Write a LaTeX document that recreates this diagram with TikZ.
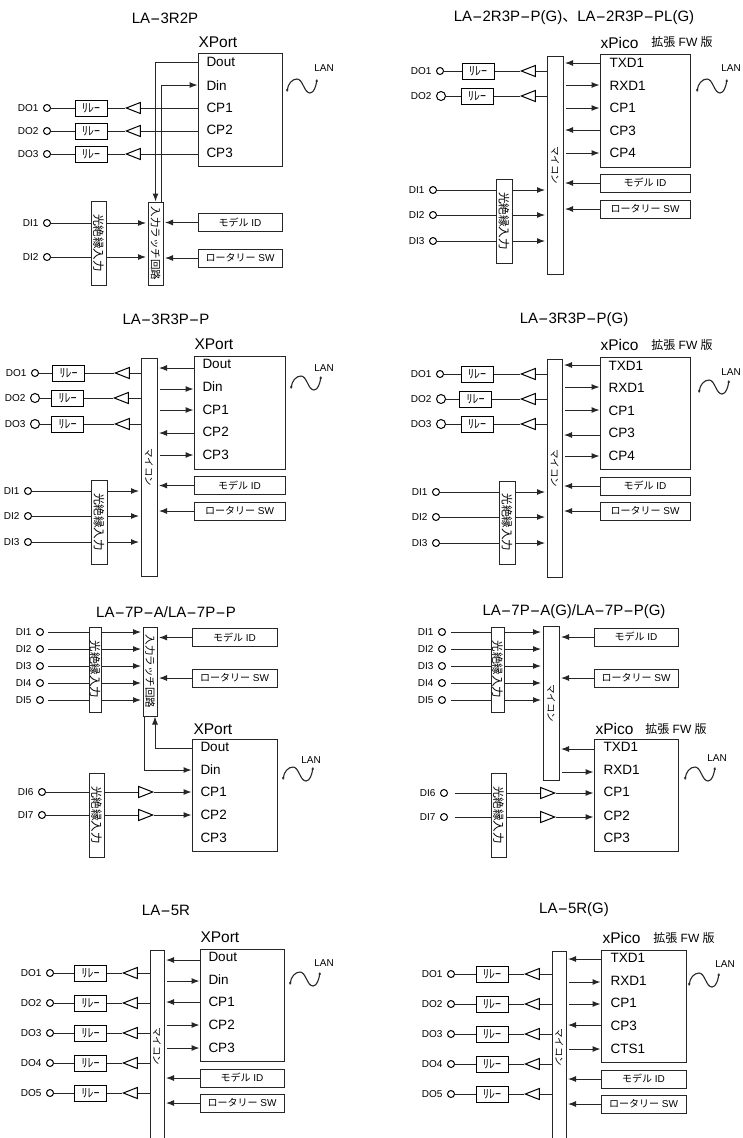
\documentclass[tikz,border=0pt]{standalone}
\usepackage{fontspec}
\setmainfont{Liberation Sans}
\newfontfamily\jpfont{Noto Sans CJK JP}
\usetikzlibrary{positioning,shapes.geometric,arrows.meta}
\newcommand{\lhy}{\scalebox{2.1}[1]{-}}
\newcommand{\fwtext}{{\jpfont 拡張} FW {\jpfont 版}}
\newcommand{\relayrow}[8][term]{%
  \node[#1] (#2) at (#5,#4) {};
  \node[termlabel,left=4pt of #2] (#2t) {#3};
  \node[relaybox] (#2r) at (#6,#4) {ﾘﾚｰ};
  \node[bufleft] (#2b) at (#7,#4) {};
  \draw[wire] (#2) -- (#2r);
  \draw[wire] (#2r) -- (#2b.apex);
  \draw[wire] (#2b.lower side) -- (#8 |- #2b.lower side);
}
\newcommand{\inputrow}[7][wire]{%
  \node[term] (#2) at (#5,#4) {};
  \node[termlabel,left=4pt of #2] (#2t) {#3};
  \draw[#1] (#2) -- (#6.west |- #2);
  \draw[sigin] (#6.east |- #2) -- (#7 |- #2);
}
\newcommand{\bufrow}[8][wire]{%
  \node[term] (#2) at (#5,#4) {};
  \node[termlabel,left=4pt of #2] (#2t) {#3};
  \node[bufright] (#2b) at (#7,#4) {};
  \draw[#1] (#2) -- (#6.west |- #2);
  \draw[wire] (#6.east |- #2) -- (#2b.lower side);
  \draw[sig] (#2b.apex) -- (#8 |- #2b.apex);
}
\newcommand{\idboxes}[5]{%
  \node[idbox,minimum width=#2pt] (model) at (#1,#3) {{\jpfont モデル} ID};
  \node[idbox,minimum width=#2pt] (rotary) at (#1,#4) {{\jpfont ロータリー} SW};
  \draw[sigin] (model.west) -- (#5 |- model.west);
  \draw[sigin] (rotary.west) -- (#5 |- rotary.west);
}
\newcommand{\lanwave}[4]{%
  \draw[wave,shift={(#1,#2)}] (0,0) .. controls (1,-8) and (5,-13) .. (10,-13)
    .. controls (16,-13) and (17,1) .. (23,1) .. controls (27,1) and (29,-6) .. (30,-13);
  \node[lanlabel] (lan) at (#3,#4) {LAN};
}
\begin{document}
\begin{tikzpicture}[x=1pt,y=-1pt,
    line width=1pt,
    term/.style={circle,draw,fill=white,inner sep=0pt,minimum size=7pt},
    bigterm/.style={term,minimum size=9pt},
    termlabel/.style={inner sep=0pt,font=\fontsize{10}{12}\selectfont},
    relaybox/.style={draw,fill=white,inner sep=0pt,minimum width=32pt,minimum height=16pt,font=\jpfont\fontsize{12}{12}\selectfont},
    bufleft/.style={draw,isosceles triangle,isosceles triangle stretches,shape border rotate=180,anchor=apex,inner sep=0pt,minimum width=11pt,minimum height=14pt},
    bufright/.style={bufleft,shape border rotate=0},
    wire/.style={draw=black!85},
    gapwire/.style={wire,shorten <=#1},
    sig/.style={wire,-{Latex[length=8pt,width=6pt]}},
    sigin/.style={sig,shorten >=1.5pt},
    sigout/.style={sig,shorten <=2.5pt},
    wave/.style={draw=black!85,line width=1.1pt,{Latex[length=2.5pt,width=3pt]}-{Latex[length=2.5pt,width=3pt]}},
    idbox/.style={draw=black!85,fill=white,inner sep=0pt,minimum height=18pt,font=\fontsize{10}{12}\selectfont},
    mainbox/.style={draw=black!85,fill=white,inner sep=0pt},
    tallbox/.style 2 args={mainbox,minimum width=#1pt,minimum height=#2pt,font=\jpfont\fontsize{11.5}{12}\selectfont},
    pin/.style={anchor=west,inner sep=0pt,font=\fontsize{13.5}{15}\selectfont},
    title/.style={inner sep=0pt,font=\fontsize{15}{16}\selectfont},
    modname/.style={anchor=west,inner sep=0pt,font=\fontsize{15.5}{17}\selectfont},
    fwnote/.style={inner sep=0pt,font=\fontsize{12}{14}\selectfont},
    lanlabel/.style={inner sep=0pt,font=\fontsize{10}{12}\selectfont}]
  \useasboundingbox (0,0) rectangle (743,1138);

  % LA-3R2P
  \begin{scope}
    \node[title] (ttl) at (165,18) {LA\lhy3R2P};
    \node[modname] (xp) at (198,42) {XPort};
    \node[mainbox,minimum width=84pt,minimum height=113pt] (xport) at (240,109.5) {};
    \node[pin] (p1) at (206,62) {Dout};
    \node[pin] (p2) at (206,86) {Din};
    \node[pin] (p3) at (206,108) {CP1};
    \node[pin] (p4) at (206,130) {CP2};
    \node[pin] (p5) at (206,153) {CP3};
    \node[tallbox={15}{83}] (latch) at (155.5,243.5) {\rotatebox{-90}{\fontsize{10.5}{11}\selectfont 入力ラッチ回路}};
    \node[tallbox={15}{84}] (photo) at (98.5,243) {\rotatebox{-90}{光絶縁入力}};
    \draw[sig] (xport.west |- 0,62) -| (latch.north);
    \draw[sig] ([xshift=6pt]latch.north) |- (xport.west |- 0,85);
    \relayrow{do1}{DO1}{108}{47}{91}{125}{xport.west}
    \relayrow{do2}{DO2}{131}{47}{91}{125}{xport.west}
    \relayrow{do3}{DO3}{154}{47}{91}{125}{xport.west}
    \inputrow{di1}{DI1}{223}{47}{photo}{latch.west}
    \inputrow{di2}{DI2}{257}{47}{photo}{latch.west}
    \idboxes{240}{84}{222.5}{258}{latch.east}
    \lanwave{287}{92}{324}{68}
  \end{scope}

  % LA-2R3P-P(G)
  \begin{scope}
    \node[title] (ttl) at (574,18) {LA\lhy2R3P\lhy P(G){\jpfont 、}LA\lhy2R3P\lhy PL(G)};
    \node[modname] (xp) at (600,43) {xPico};
    \node[fwnote] (fw) at (682,42) {\fwtext};
    \node[mainbox,minimum width=90pt,minimum height=113pt] (xpico) at (645,110.5) {};
    \node[pin] (p1) at (609,63) {TXD1};
    \node[pin] (p2) at (609,86) {RXD1};
    \node[pin] (p3) at (609,108) {CP1};
    \node[pin] (p4) at (609,131) {CP3};
    \node[pin] (p5) at (609,153) {CP4};
    \node[tallbox={16}{218}] (mcu) at (555,165) {\rotatebox{-90}{\fontsize{9.5}{10}\selectfont マイコン}};
    \node[tallbox={16}{84}] (photo) at (504,221) {\rotatebox{-90}{光絶縁入力}};
    \draw[sigin] (xpico.west |- 0,63) -- (mcu.east |- 0,63);
    \draw[sigout] (mcu.east |- 0,85) -- (xpico.west |- 0,85);
    \draw[sigout] (mcu.east |- 0,108) -- (xpico.west |- 0,108);
    \draw[sigin] (xpico.west |- 0,130) -- (mcu.east |- 0,130);
    \draw[sigout] (mcu.east |- 0,153) -- (xpico.west |- 0,153);
    \relayrow{do1}{DO1}{71}{440}{478}{520}{mcu.west}
    \relayrow[bigterm]{do2}{DO2}{96}{441}{477}{520}{mcu.west}
    \inputrow{di1}{DI1}{190}{433}{photo}{mcu.west}
    \inputrow{di2}{DI2}{215}{433}{photo}{mcu.west}
    \inputrow{di3}{DI3}{241}{433}{photo}{mcu.west}
    \idboxes{645}{90}{183}{209}{mcu.east}
    \lanwave{697}{92}{731}{68}
  \end{scope}

  % LA-3R3P-P
  \begin{scope}
    \node[title] (ttl) at (166,319) {LA\lhy3R3P\lhy P};
    \node[modname] (xp) at (194,344) {XPort};
    \node[mainbox,minimum width=91pt,minimum height=113pt] (xport) at (239.5,412.5) {};
    \node[pin] (p1) at (202,364) {Dout};
    \node[pin] (p2) at (202,387) {Din};
    \node[pin] (p3) at (202,410) {CP1};
    \node[pin] (p4) at (202,432) {CP2};
    \node[pin] (p5) at (202,455) {CP3};
    \node[tallbox={16}{218}] (mcu) at (149,467) {\rotatebox{-90}{\fontsize{9.5}{10}\selectfont マイコン}};
    \node[tallbox={16}{84}] (photo) at (99,522) {\rotatebox{-90}{光絶縁入力}};
    \draw[sigin] (xport.west |- 0,368) -- (mcu.east |- 0,368);
    \draw[sigout] (mcu.east |- 0,389) -- (xport.west |- 0,389);
    \draw[sigout] (mcu.east |- 0,410) -- (xport.west |- 0,410);
    \draw[sigin] (xport.west |- 0,433) -- (mcu.east |- 0,433);
    \draw[sigout] (mcu.east |- 0,455) -- (xport.west |- 0,455);
    \relayrow{do1}{DO1}{373}{35}{68.5}{114}{mcu.west}
    \relayrow[bigterm]{do2}{DO2}{398}{35}{67.5}{113}{mcu.west}
    \relayrow[bigterm]{do3}{DO3}{424}{35}{67.5}{114}{mcu.west}
    \inputrow{di1}{DI1}{491}{28}{photo}{mcu.west}
    \inputrow{di2}{DI2}{516}{28}{photo}{mcu.west}
    \inputrow{di3}{DI3}{542}{28}{photo}{mcu.west}
    \idboxes{239.5}{91}{485.5}{511}{mcu.east}
    \lanwave{291}{389}{324}{368}
  \end{scope}

  % LA-3R3P-P(G)
  \begin{scope}
    \node[title] (ttl) at (574,320) {LA\lhy3R3P\lhy P(G)};
    \node[modname] (xp) at (600,345) {xPico};
    \node[fwnote] (fw) at (682,345) {\fwtext};
    \node[mainbox,minimum width=90pt,minimum height=112pt] (xpico) at (645,413) {};
    \node[pin] (p1) at (608,366) {TXD1};
    \node[pin] (p2) at (608,388) {RXD1};
    \node[pin] (p3) at (608,411) {CP1};
    \node[pin] (p4) at (608,433) {CP3};
    \node[pin] (p5) at (608,456) {CP4};
    \node[tallbox={15}{218}] (mcu) at (554.5,468) {\rotatebox{-90}{\fontsize{9.5}{10}\selectfont マイコン}};
    \node[tallbox={16}{83}] (photo) at (507,522.5) {\rotatebox{-90}{光絶縁入力}};
    \draw[sigin] (xpico.west |- 0,365) -- (mcu.east |- 0,365);
    \draw[sigout] (mcu.east |- 0,387) -- (xpico.west |- 0,387);
    \draw[sigout] (mcu.east |- 0,410) -- (xpico.west |- 0,410);
    \draw[sigin] (xpico.west |- 0,435) -- (mcu.east |- 0,435);
    \draw[sigout] (mcu.east |- 0,456) -- (xpico.west |- 0,456);
    \relayrow{do1}{DO1}{374}{440}{477}{520}{mcu.west}
    \relayrow[bigterm]{do2}{DO2}{399}{441}{475.5}{520}{mcu.west}
    \relayrow[bigterm]{do3}{DO3}{424}{441}{477}{520}{mcu.west}
    \inputrow{di1}{DI1}{492}{436}{photo}{mcu.west}
    \inputrow{di2}{DI2}{517}{436}{photo}{mcu.west}
    \inputrow{di3}{DI3}{543}{436}{photo}{mcu.west}
    \idboxes{645}{90}{486}{511}{mcu.east}
    \lanwave{699}{393}{731}{372}
  \end{scope}

  % LA-7P-A/LA-7P-P
  \begin{scope}
    \node[title] (ttl) at (166,612) {LA\lhy7P\lhy A/LA\lhy7P\lhy P};
    \node[modname] (xp) at (193,729) {XPort};
    \node[mainbox,minimum width=85pt,minimum height=112pt] (xport) at (234.5,795) {};
    \node[pin] (p1) at (200,747) {Dout};
    \node[pin] (p2) at (200,770) {Din};
    \node[pin] (p3) at (200,792) {CP1};
    \node[pin] (p4) at (200,815) {CP2};
    \node[pin] (p5) at (200,838) {CP3};
    \node[tallbox={14}{89}] (latch) at (150,671.5) {\rotatebox{-90}{\fontsize{10.5}{11}\selectfont 入力ラッチ回路}};
    \node[tallbox={12}{85}] (photo) at (95,669.5) {\rotatebox{-90}{光絶縁入力}};
    \node[tallbox={15}{84}] (photob) at (96.5,815) {\rotatebox{-90}{光絶縁入力}};
    \draw[sig] (xport.west |- 0,748) -| ([xshift=5pt]latch.south);
    \draw[sig] ([xshift=-6pt]latch.south) |- (xport.west |- 0,770);
    \inputrow[gapwire=4pt]{di1}{DI1}{632}{40}{photo}{latch.west}
    \inputrow[gapwire=4pt]{di2}{DI2}{649}{40}{photo}{latch.west}
    \inputrow[gapwire=4pt]{di3}{DI3}{666}{40}{photo}{latch.west}
    \inputrow[gapwire=4pt]{di4}{DI4}{683}{40}{photo}{latch.west}
    \inputrow[gapwire=4pt]{di5}{DI5}{700}{40}{photo}{latch.west}
    \bufrow{di6}{DI6}{792}{42}{photob}{154}{xport.west}
    \bufrow{di7}{DI7}{815}{42}{photob}{154}{xport.west}
    \idboxes{234.5}{85}{637.5}{678}{latch.east}
    \lanwave{283}{780}{311}{760}
  \end{scope}

  % LA-7P-A(G)/LA-7P-P(G)
  \begin{scope}
    \node[title] (ttl) at (574,612) {LA\lhy7P\lhy A(G)/LA\lhy7P\lhy P(G)};
    \node[modname] (xp) at (595,729) {xPico};
    \node[fwnote] (fw) at (676,729) {\fwtext};
    \node[mainbox,minimum width=84pt,minimum height=112pt] (xpico) at (636,795) {};
    \node[pin] (p1) at (603,747) {TXD1};
    \node[pin] (p2) at (603,770) {RXD1};
    \node[pin] (p3) at (603,792) {CP1};
    \node[pin] (p4) at (603,816) {CP2};
    \node[pin] (p5) at (603,838) {CP3};
    \node[tallbox={16}{154}] (mcu) at (551,703) {\rotatebox{-90}{\fontsize{9.5}{10}\selectfont マイコン}};
    \node[tallbox={13}{85}] (photo) at (497.5,669.5) {\rotatebox{-90}{光絶縁入力}};
    \node[tallbox={15}{84}] (photob) at (498.5,815) {\rotatebox{-90}{光絶縁入力}};
    \draw[sigin] (xpico.west |- 0,749) -- (mcu.east |- 0,749);
    \draw[sigout] (mcu.east |- 0,772) -- (xpico.west |- 0,772);
    \inputrow[gapwire=5pt]{di1}{DI1}{632}{442}{photo}{mcu.west}
    \inputrow[gapwire=5pt]{di2}{DI2}{649}{442}{photo}{mcu.west}
    \inputrow[gapwire=5pt]{di3}{DI3}{666}{442}{photo}{mcu.west}
    \inputrow[gapwire=5pt]{di4}{DI4}{683}{442}{photo}{mcu.west}
    \inputrow[gapwire=5pt]{di5}{DI5}{700}{442}{photo}{mcu.west}
    \bufrow[gapwire=7pt]{di6}{DI6}{793}{444}{photob}{556}{xpico.west}
    \bufrow[gapwire=7pt]{di7}{DI7}{817}{444}{photob}{556}{xpico.west}
    \idboxes{636}{84}{637}{678}{mcu.east}
    \lanwave{685}{780}{717}{758}
  \end{scope}

  % LA-5R
  \begin{scope}
    \node[title] (ttl) at (166,910) {LA\lhy5R};
    \node[modname] (xp) at (200,937) {XPort};
    \node[mainbox,minimum width=84pt,minimum height=112pt] (xport) at (242,1005) {};
    \node[pin] (p1) at (208,957) {Dout};
    \node[pin] (p2) at (208,980) {Din};
    \node[pin] (p3) at (208,1002) {CP1};
    \node[pin] (p4) at (208,1025) {CP2};
    \node[pin] (p5) at (208,1048) {CP3};
    \node[tallbox={14}{192}] (mcu) at (157,1046) {\rotatebox{-90}{\fontsize{9.5}{10}\selectfont マイコン}};
    \draw[sigin] (xport.west |- 0,960) -- (mcu.east |- 0,960);
    \draw[sigout] (mcu.east |- 0,981) -- (xport.west |- 0,981);
    \draw[sigin] (xport.west |- 0,1002) -- (mcu.east |- 0,1002);
    \draw[sigout] (mcu.east |- 0,1025) -- (xport.west |- 0,1025);
    \draw[sigout] (mcu.east |- 0,1048) -- (xport.west |- 0,1048);
    \relayrow{do1}{DO1}{973}{50}{90.5}{122}{mcu.west}
    \relayrow{do2}{DO2}{1003}{50}{90.5}{122}{mcu.west}
    \relayrow{do3}{DO3}{1033}{50}{90.5}{122}{mcu.west}
    \relayrow{do4}{DO4}{1063}{50}{90.5}{122}{mcu.west}
    \relayrow{do5}{DO5}{1093}{50}{90.5}{122}{mcu.west}
    \idboxes{242}{84}{1078}{1103}{mcu.east}
    \lanwave{290}{985}{324}{963}
  \end{scope}

  % LA-5R(G)
  \begin{scope}
    \node[title] (ttl) at (574,910) {LA\lhy5R(G)};
    \node[modname] (xp) at (602,938) {xPico};
    \node[fwnote] (fw) at (684,938) {\fwtext};
    \node[mainbox,minimum width=85pt,minimum height=112pt] (xpico) at (643.5,1006) {};
    \node[pin] (p1) at (610,958) {TXD1};
    \node[pin] (p2) at (610,981) {RXD1};
    \node[pin] (p3) at (610,1003) {CP1};
    \node[pin] (p4) at (610,1026) {CP3};
    \node[pin] (p5) at (610,1049) {CTS1};
    \node[tallbox={14}{192}] (mcu) at (559,1047) {\rotatebox{-90}{\fontsize{9.5}{10}\selectfont マイコン}};
    \draw[sigin] (xpico.west |- 0,959) -- (mcu.east |- 0,959);
    \draw[sigout] (mcu.east |- 0,982) -- (xpico.west |- 0,982);
    \draw[sigout] (mcu.east |- 0,1004) -- (xpico.west |- 0,1004);
    \draw[sigin] (xpico.west |- 0,1025) -- (mcu.east |- 0,1025);
    \draw[sigout] (mcu.east |- 0,1049) -- (xpico.west |- 0,1049);
    \relayrow{do1}{DO1}{974}{451}{492}{524}{mcu.west}
    \relayrow{do2}{DO2}{1004}{451}{492}{524}{mcu.west}
    \relayrow{do3}{DO3}{1034}{451}{492}{524}{mcu.west}
    \relayrow{do4}{DO4}{1064}{451}{492}{524}{mcu.west}
    \relayrow{do5}{DO5}{1094}{451}{492}{524}{mcu.west}
    \idboxes{643.5}{85}{1079}{1104}{mcu.east}
    \lanwave{689}{986}{725}{964}
  \end{scope}
\end{tikzpicture}
\end{document}
